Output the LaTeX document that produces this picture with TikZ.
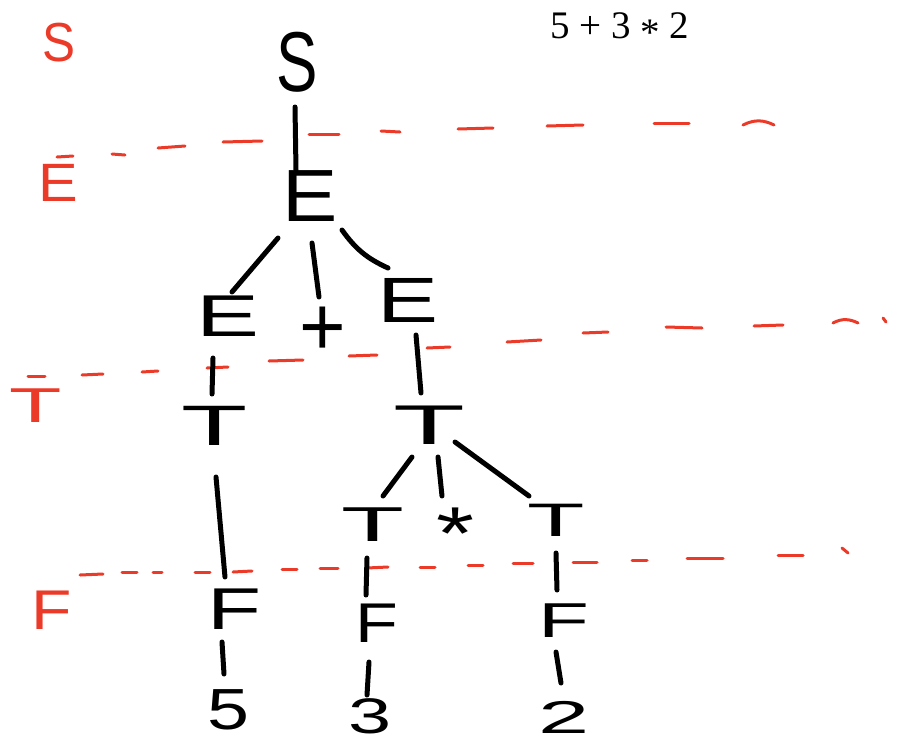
\documentclass[tikz,border=0pt]{standalone}
\usepackage{graphicx}
\usepackage{fontspec}
\setmainfont{Liberation Sans}
\newfontfamily\serifface{Liberation Serif}
\usetikzlibrary{calc}
\definecolor{redc}{RGB}{236,58,41}
\newcommand\hsz[1]{\fontsize{#1}{#1}\selectfont}
\newcommand\hletter[3]{\scalebox{#2}[1]{\hsz{#1}#3}}
\tikzset{
  sym/.style={inner sep=0pt, outer sep=0pt, text=black},
  lab/.style={inner sep=0pt, outer sep=0pt, text=redc},
  edge/.style={draw=black, line width=5pt, line cap=round},
  guide/.style={draw=redc, line width=3pt, line cap=round},
}
\begin{document}
\begin{tikzpicture}[x=1pt,y=-1pt]
\useasboundingbox (0,0) rectangle (897,737);
\clip (0,0) rectangle (897,737);
% expression
\node[anchor=base west, inner sep=0pt] (expr) at (550,38) {\serifface\hsz{39}5 + 3 \raisebox{-0.18em}{*} 2};
% red level labels
\node[lab] (rS) at (59,42.5) {\hletter{55}{0.9}{S}};
\node[lab] (rE) at (58.5,182.5) {\hletter{54}{1.1}{E}};
\node[lab] (rT) at (35.5,405.5) {\hletter{49}{1.75}{T}};
\node[lab] (rF) at (51.5,610) {\hletter{56}{1.18}{F}};
% red guide lines
\foreach \a/\b/\c/\d in {57/157/73/156, 112/154/125/155, 158/148/185/146, 223/142/262/141, 309/134/339/134, 381/131/400/132, 458/129/493/128, 547/126/583/125, 654/123/689/123}
  \draw[guide] (\a,\b) -- (\c,\d);
\draw[guide] (743,125) .. controls (755,119) and (764,120) .. (774,125);
\foreach \a/\b/\c/\d in {28/376/45/376, 82/375/103/374, 142/372/158/371, 207/368/228/367, 269/361/303/360, 349/356/377/355, 427/348/450/347, 507/342/541/340, 583/333/608/332, 666/327/702/328, 754/326/783/325, 883/318/886/322}
  \draw[guide] (\a,\b) -- (\c,\d);
\draw[guide] (833,323) .. controls (842,318) and (850,319) .. (858,323);
\foreach \a/\b/\c/\d in {80/575/103/574, 122/572/137/572, 153/572/162/572, 195/572/210/572, 233/572/252/571, 282/569/297/569, 320/568/338/568, 367/568/388/567, 420/567/435/567, 468/565/483/565, 513/563/533/563, 573/562/597/562, 632/560/647/560, 687/558/723/558, 778/555/803/555, 842/548/848/553}
  \draw[guide] (\a,\b) -- (\c,\d);
% tree nodes
\node[sym] (sS) at (297.5,62.5) {\hletter{85}{0.73}{S}};
\node[sym] (eTop) at (310,196.5) {\hletter{74}{1.12}{E}};
\node[sym] (eL) at (227.5,316) {\hletter{59}{1.6}{E}};
\node[sym, anchor=north] (plus) at (322.5,307) {\hletter{84}{0.95}{+}};
\node[sym] (eR) at (408,300) {\hletter{64}{1.43}{E}};
\node[sym] (tL) at (215,425.5) {\hletter{57}{1.9}{T}};
\node[sym] (tR) at (429,425) {\hletter{56}{2.1}{T}};
\node[sym] (tLL) at (373,524.5) {\hletter{49}{2.1}{T}};
\node[sym, anchor=north] (star) at (455,508) {\hletter{75}{1.3}{*}};
\node[sym] (tLR) at (556,520) {\hletter{47}{2.0}{T}};
\node[sym] (fL) at (235,609) {\hletter{59}{1.5}{F}};
\node[sym] (fM) at (376.5,623) {\hletter{56}{1.25}{F}};
\node[sym] (fR) at (564,620.5) {\hletter{49}{1.7}{F}};
\node[sym] (d5) at (228,710) {\hletter{58}{1.3}{5}};
\node[sym] (d3) at (370.5,716) {\hletter{50}{1.55}{3}};
\node[sym] (d2) at (564.5,717.5) {\hletter{46}{2.0}{2}};
% connectors
\draw[edge] ($(sS)+(-2.5,44.5)$) -- ($(eTop)+(-14,-26.5)$);
\draw[edge] ($(eTop)+(-32,41.5)$) -- ($(eL)+(4.5,-24)$);
\draw[edge] ($(eTop)+(2,46.5)$) -- ($(plus.north)+(-3.5,-10)$);
\draw[edge] ($(eTop)+(32,33.5)$) to[bend right=15] ($(eR)+(-20,-32)$);
\draw[edge] ($(eL)+(-14.5,42)$) -- ($(tL)+(-3,-31.5)$);
\draw[edge] ($(eR)+(8,35)$) -- ($(tR)+(-8,-32)$);
\draw[edge] ($(tL)+(1,51.5)$) -- ($(fL)+(-10,-32)$);
\draw[edge] ($(tR)+(-17,32)$) -- ($(tLL)+(10,-28.5)$);
\draw[edge] ($(tR)+(9,32)$) -- ($(star.north)+(-13,-12)$);
\draw[edge] ($(tR)+(26,17)$) -- ($(tLR)+(-27,-24)$);
\draw[edge] ($(tLL)+(-6,33.5)$) -- ($(fM)+(-10.5,-28)$);
\draw[edge] ($(tLR)+(0,33)$) -- ($(fR)+(-7,-30.5)$);
\draw[edge] ($(fL)+(-13,33)$) -- ($(d5)+(-4,-36)$);
\draw[edge] ($(fM)+(-7.5,39)$) -- ($(d3)+(-3.5,-21)$);
\draw[edge] ($(fR)+(-8,31.5)$) -- ($(d2)+(-3.5,-34.5)$);
\end{tikzpicture}
\end{document}
